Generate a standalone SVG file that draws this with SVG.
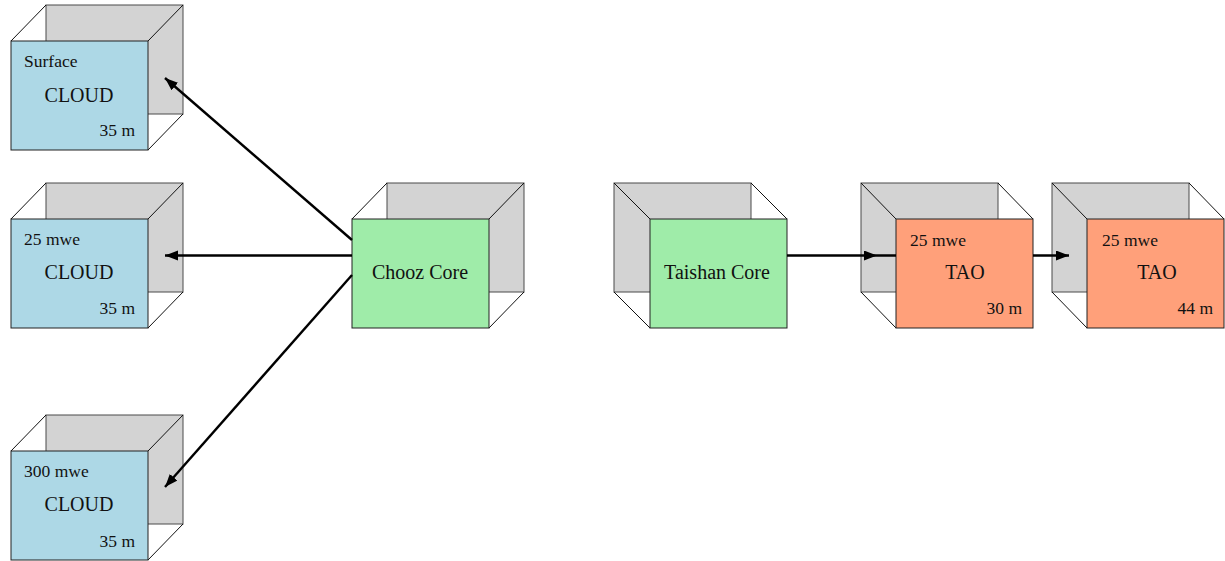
<svg xmlns="http://www.w3.org/2000/svg" width="1225" height="561" viewBox="0 0 1225 561">
  <defs>
    <marker id="head" markerUnits="userSpaceOnUse" markerWidth="14" markerHeight="11" refX="13" refY="5" orient="auto">
      <path d="M0,0 L13,5 L0,10 Z" fill="#000"/>
    </marker>
  </defs>
  <style>
    .back { fill: #d3d3d3; stroke: #4a4a4a; stroke-width: 1; }
    .edge { stroke: #111; stroke-width: 1; fill: none; }
    .cloud { fill: #add8e6; stroke: #222; stroke-width: 1; }
    .core { fill: #9feca9; stroke: #222; stroke-width: 1; }
    .tao { fill: #ffa07a; stroke: #222; stroke-width: 1; }
    text { font-family: "Liberation Serif", "Times New Roman", serif; fill: #111; }
    .big { font-size: 20px; text-anchor: middle; }
    .small { font-size: 17.5px; }
    .end { text-anchor: end; }
    .wire { stroke: #000; stroke-width: 2.4; fill: none; }
  </style>

  <!-- CLOUD detector at the surface -->
  <g id="cloud-surface">
    <rect class="back" x="46" y="5" width="137" height="109"/>
    <path class="edge" d="M11,41 L46,5 M148,41 L183,5 M148,150 L183,114"/>
    <rect class="cloud" x="11" y="41" width="137" height="109"/>
    <text class="small" x="24" y="67">Surface</text>
    <text class="big" x="79" y="102">CLOUD</text>
    <text class="small end" x="135" y="136">35 m</text>
  </g>

  <!-- CLOUD detector at 25 mwe -->
  <g id="cloud-25mwe">
    <rect class="back" x="46" y="183" width="137" height="109"/>
    <path class="edge" d="M11,219 L46,183 M148,219 L183,183 M148,328 L183,292"/>
    <rect class="cloud" x="11" y="219" width="137" height="109"/>
    <text class="small" x="24" y="245">25 mwe</text>
    <text class="big" x="79" y="279">CLOUD</text>
    <text class="small end" x="135" y="314">35 m</text>
  </g>

  <!-- CLOUD detector at 300 mwe -->
  <g id="cloud-300mwe">
    <rect class="back" x="46" y="415" width="137" height="109"/>
    <path class="edge" d="M11,451 L46,415 M148,451 L183,415 M148,560 L183,524"/>
    <rect class="cloud" x="11" y="451" width="137" height="109"/>
    <text class="small" x="24" y="477">300 mwe</text>
    <text class="big" x="79" y="511">CLOUD</text>
    <text class="small end" x="135" y="547">35 m</text>
  </g>

  <!-- Chooz reactor core -->
  <g id="chooz-core">
    <rect class="back" x="387" y="183" width="137" height="109"/>
    <path class="edge" d="M352,219 L387,183 M489,219 L524,183 M489,328 L524,292"/>
    <rect class="core" x="352" y="219" width="137" height="109"/>
    <text class="big" x="420" y="279">Chooz Core</text>
  </g>

  <!-- Taishan reactor core -->
  <g id="taishan-core">
    <rect class="back" x="614" y="183" width="137" height="109"/>
    <path class="edge" d="M650,219 L614,183 M787,219 L751,183 M650,328 L614,292"/>
    <rect class="core" x="650" y="219" width="137" height="109"/>
    <text class="big" x="717" y="279">Taishan Core</text>
  </g>

  <!-- TAO detector at 30 m -->
  <g id="tao-30m">
    <rect class="back" x="861" y="183" width="137" height="109"/>
    <path class="edge" d="M896,219 L861,183 M1033,219 L998,183 M896,328 L861,292"/>
    <rect class="tao" x="896" y="219" width="137" height="109"/>
    <text class="small" x="910" y="246">25 mwe</text>
    <text class="big" x="965" y="279">TAO</text>
    <text class="small end" x="1022" y="314">30 m</text>
  </g>

  <!-- TAO detector at 44 m -->
  <g id="tao-44m">
    <rect class="back" x="1052" y="183" width="137" height="109"/>
    <path class="edge" d="M1087,219 L1052,183 M1224,219 L1189,183 M1087,328 L1052,292"/>
    <rect class="tao" x="1087" y="219" width="137" height="109"/>
    <text class="small" x="1102" y="246">25 mwe</text>
    <text class="big" x="1157" y="279">TAO</text>
    <text class="small end" x="1213" y="314">44 m</text>
  </g>

  <!-- connectors, drawn over the back faces -->
  <g id="connectors">
    <path class="wire" d="M352,240 L165,78" marker-end="url(#head)"/>
    <path class="wire" d="M352,255.5 L165,255.5" marker-end="url(#head)"/>
    <path class="wire" d="M352,275 L165,487" marker-end="url(#head)"/>
    <path class="wire" d="M787,255.5 L877,255.5 L896,255.5" marker-mid="url(#head)"/>
    <path class="wire" d="M1033,255.5 L1069,255.5" marker-end="url(#head)"/>
  </g>
</svg>
